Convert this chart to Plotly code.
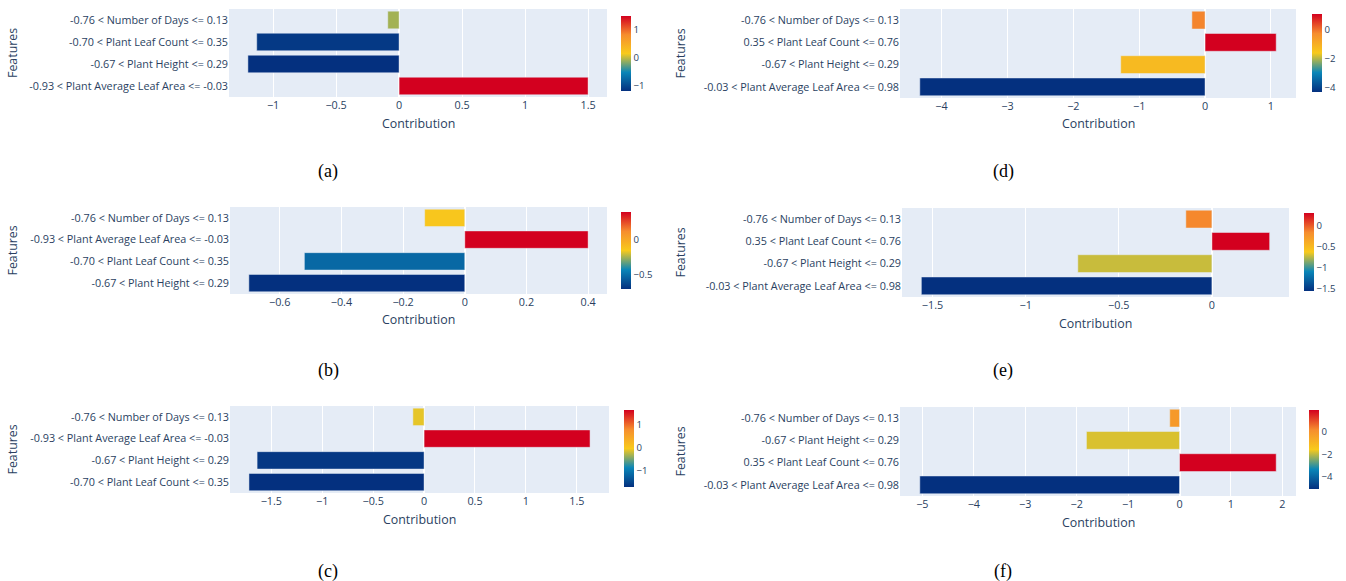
import plotly.graph_objects as go

W, H = 1346, 581

# Feature labels (listed top to bottom as displayed)
feat_a = ["-0.76 < Number of Days <= 0.13", "-0.70 < Plant Leaf Count <= 0.35",
          "-0.67 < Plant Height <= 0.29", "-0.93 < Plant Average Leaf Area <= -0.03"]
feat_b = ["-0.76 < Number of Days <= 0.13", "-0.93 < Plant Average Leaf Area <= -0.03",
          "-0.70 < Plant Leaf Count <= 0.35", "-0.67 < Plant Height <= 0.29"]
feat_c = ["-0.76 < Number of Days <= 0.13", "-0.93 < Plant Average Leaf Area <= -0.03",
          "-0.67 < Plant Height <= 0.29", "-0.70 < Plant Leaf Count <= 0.35"]
feat_d = ["-0.76 < Number of Days <= 0.13", "0.35 < Plant Leaf Count <= 0.76",
          "-0.67 < Plant Height <= 0.29", "-0.03 < Plant Average Leaf Area <= 0.98"]
feat_e = ["-0.76 < Number of Days <= 0.13", "0.35 < Plant Leaf Count <= 0.76",
          "-0.67 < Plant Height <= 0.29", "-0.03 < Plant Average Leaf Area <= 0.98"]
feat_f = ["-0.76 < Number of Days <= 0.13", "-0.67 < Plant Height <= 0.29",
          "0.35 < Plant Leaf Count <= 0.76", "-0.03 < Plant Average Leaf Area <= 0.98"]

# Contributions (same order as the labels)
contrib_a = [-0.09, -1.13, -1.20, 1.50]
contrib_b = [-0.13, 0.40, -0.52, -0.70]
contrib_c = [-0.11, 1.63, -1.64, -1.72]
contrib_d = [-0.20, 1.08, -1.28, -4.33]
contrib_e = [-0.14, 0.31, -0.72, -1.56]
contrib_f = [-0.19, -1.81, 1.88, -5.05]

captions = ["(a)", "(b)", "(c)", "(d)", "(e)", "(f)"]

# panel geometry in pixels: plot x-range, plot y-range, colorbar left / top / bottom
panels = [
    dict(feat=feat_a, val=contrib_a, dt=0.5, px=(229, 607), py=(9, 97), cb=(621, 16, 91), cap=(328, 172)),
    dict(feat=feat_b, val=contrib_b, dt=0.2, px=(230, 607), py=(207, 294), cb=(621, 212, 289), cap=(328, 371)),
    dict(feat=feat_c, val=contrib_c, dt=0.5, px=(230, 609), py=(406, 493), cb=(624, 410, 487), cap=(328, 571)),
    dict(feat=feat_d, val=contrib_d, dt=1, px=(900, 1296), py=(9, 98), cb=(1312, 14, 92), cap=(1003, 172)),
    dict(feat=feat_e, val=contrib_e, dt=0.5, px=(902, 1289), py=(208, 297), cb=(1304, 213, 291), cap=(1003, 371)),
    dict(feat=feat_f, val=contrib_f, dt=1, px=(900, 1296), py=(407, 496), cb=(1309, 410, 489), cap=(1003, 571)),
]

# blue -> teal -> yellow -> orange -> red
SCALE = [[0.0, "#04307f"], [0.25, "#0a86b8"], [0.5, "#f8ca1c"],
         [0.75, "#f68d2e"], [1.0, "#d3001f"]]

FONT = "Open Sans, Arial, sans-serif"
TXT = "#2a3f5f"
TICK = 10.8
TITLE = 12.4

fig = go.Figure()
layout = dict(
    width=W, height=H, margin=dict(l=0, r=0, t=0, b=0),
    paper_bgcolor="white", plot_bgcolor="#E5ECF6",
    showlegend=False, font=dict(family=FONT, color=TXT, size=TICK),
    annotations=[],
)

for i, p in enumerate(panels):
    n = i + 1
    sfx = "" if n == 1 else str(n)
    ca = "coloraxis" + sfx
    fig.add_trace(go.Bar(
        x=p["val"][::-1], y=p["feat"][::-1], orientation="h",
        marker=dict(color=p["val"][::-1], coloraxis=ca,
                    line=dict(color="#E5ECF6", width=0.5)),
        xaxis="x" + sfx, yaxis="y" + sfx,
    ))
    x0, x1 = p["px"]
    y0, y1 = p["py"]
    layout["xaxis" + sfx] = dict(
        domain=[x0 / W, x1 / W], anchor="y" + sfx,
        dtick=p["dt"],
        showgrid=True, gridcolor="white", gridwidth=1,
        zeroline=True, zerolinecolor="white", zerolinewidth=2,
        showline=False, ticks="", tickfont=dict(size=TICK, color=TXT),
    )
    layout["yaxis" + sfx] = dict(
        domain=[1 - y1 / H, 1 - y0 / H], anchor="x" + sfx,
        showgrid=False, zeroline=False, ticks="",
        tickfont=dict(size=TICK, color=TXT),
    )
    cbx, cbt, cbb = p["cb"]
    layout[ca] = dict(
        colorscale=SCALE,
        colorbar=dict(
            x=cbx / W, xanchor="left", xpad=0, ypad=0,
            y=1 - (cbt + cbb) / 2 / H, yanchor="middle",
            lenmode="pixels", len=cbb - cbt, thickness=10,
            outlinewidth=0, ticks="", tickfont=dict(size=9.6, color=TXT),
        ),
    )
    ymid = 1 - (y0 + y1) / 2 / H
    fx = 12 if x0 < 700 else 680
    layout["annotations"].append(dict(
        text="Features", textangle=-90, x=fx / W, y=ymid, xref="paper", yref="paper",
        showarrow=False, font=dict(size=TITLE, color=TXT, family=FONT),
        xanchor="center", yanchor="middle",
    ))
    layout["annotations"].append(dict(
        text="Contribution", x=(x0 + x1) / 2 / W, y=1 - (y1 + 26) / H,
        xref="paper", yref="paper", showarrow=False,
        font=dict(size=TITLE, color=TXT, family=FONT),
        xanchor="center", yanchor="middle",
    ))
    cx, cy = p["cap"]
    layout["annotations"].append(dict(
        text=captions[i], x=cx / W, y=1 - cy / H, xref="paper", yref="paper",
        showarrow=False, font=dict(size=18, color="black",
                                   family="Liberation Serif, Times New Roman, serif"),
        xanchor="center", yanchor="middle",
    ))

fig.update_layout(**layout)
fig.write_html("out.html")
